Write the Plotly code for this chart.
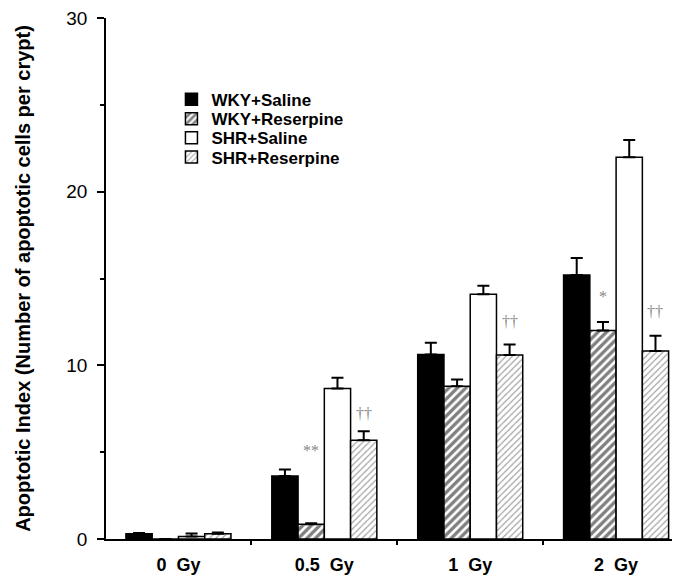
import plotly.graph_objects as go

# ---------------- data ----------------
dose_labels = ["0  Gy", "0.5  Gy", "1  Gy", "2  Gy"]
series_names = ["WKY+Saline", "WKY+Reserpine", "SHR+Saline", "SHR+Reserpine"]

wky_saline = [0.30, 3.63, 10.63, 15.20]
wky_saline_err = [0.05, 0.37, 0.67, 0.98]

wky_reserpine = [0.0, 0.85, 8.80, 12.00]
wky_reserpine_err = [0.0, 0.06, 0.39, 0.50]

shr_saline = [0.15, 8.67, 14.09, 21.98]
shr_saline_err = [0.17, 0.61, 0.49, 1.00]

shr_reserpine = [0.30, 5.69, 10.59, 10.82]
shr_reserpine_err = [0.08, 0.52, 0.61, 0.88]

# significance marks: (dose index, series index, text, y level)
sig_dose = [1, 1, 2, 3, 3]
sig_series = [1, 3, 3, 1, 3]
sig_text = ["**", "††", "††", "*", "††"]
sig_level = [5.1, 7.25, 12.5, 13.95, 13.1]

y_ticks = [0, 10, 20, 30]
y_title = "Apoptotic Index (Number of apoptotic cells per crypt)"

# ---------------- styling / layout ----------------
# the page body adds an 8px margin; size the figure so it fills the window
W, H = 672, 569
ML, MR, MT, MB = 97.5, 0, 10.3, 38.3
plot_h = H - MT - MB
plot_w = W - ML - MR

BARGAP = 0.28
n_series = 4
bar_w = (1 - BARGAP) / n_series

values = [wky_saline, wky_reserpine, shr_saline, shr_reserpine]
errors = [wky_saline_err, wky_reserpine_err, shr_saline_err, shr_reserpine_err]
styles = [
    dict(color="black"),
    dict(color="white", pattern=dict(shape="/", fgcolor="black", bgcolor="white",
                                      size=6, solidity=0.55)),
    dict(color="white"),
    dict(color="white", pattern=dict(shape="/", fgcolor="#333333", bgcolor="white",
                                      size=4.5, solidity=0.25)),
]

# legend rows (pixel centres inside the figure) -> one legend per entry
legend_left_px = 163
legend_rows_px = [92, 111.3, 130.3, 149.7]
legend_keys = ["legend", "legend2", "legend3", "legend4"]

xpos = list(range(len(dose_labels)))
fig = go.Figure()
for name, vals, errs, st, lk in zip(series_names, values, errors, styles, legend_keys):
    fig.add_trace(go.Bar(
        x=xpos, y=vals, name=name, legend=lk,
        marker=dict(line=dict(color="black", width=1.5), **st),
        error_y=dict(type="data", symmetric=False, array=errs,
                     arrayminus=[0] * len(errs), color="black",
                     thickness=2, width=6),
    ))

for d, s, t, lv in zip(sig_dose, sig_series, sig_text, sig_level):
    fig.add_annotation(
        x=d + (s - (n_series - 1) / 2) * bar_w, y=lv, text=t, showarrow=False,
        font=dict(family="Liberation Serif", size=16, color="#888888"),
        xref="x", yref="y",
    )

legend_style = dict(
    xanchor="left", yanchor="middle",
    font=dict(family="Arial", size=17, weight="bold", color="black"),
    bgcolor="rgba(0,0,0,0)", borderwidth=0,
)
legend_layout = {}
for lk, row in zip(legend_keys, legend_rows_px):
    legend_layout[lk] = dict(
        x=(legend_left_px - ML) / plot_w,
        y=(H - MB - row) / plot_h,
        **legend_style,
    )

fig.update_layout(
    width=W, height=H,
    margin=dict(l=ML, r=MR, t=MT, b=MB, pad=0),
    paper_bgcolor="white", plot_bgcolor="white",
    barmode="group", bargap=BARGAP, bargroupgap=0,
    font=dict(family="Arial", color="black"),
    showlegend=True,
    **legend_layout,
)

mid_ticks = [i + 0.5 for i in xpos[:-1]]
fig.update_xaxes(
    range=[-0.4966, 3.438],
    tickvals=xpos, ticktext=[l.replace(" ", "\u00a0") for l in dose_labels],
    ticks="", showgrid=False, zeroline=False,
    showline=True, linecolor="black", linewidth=1.6,
    tickfont=dict(family="Arial", size=18, weight="bold", color="black"),
    ticklabelstandoff=9, ticklabeloverflow="allow",
    minor=dict(tickvals=mid_ticks, ticks="outside", ticklen=4,
               tickwidth=1.5, tickcolor="black", showgrid=False),
)
fig.update_yaxes(
    range=[0, 30], tickvals=y_ticks,
    ticks="outside", ticklen=7, tickwidth=1.5, tickcolor="black",
    showgrid=False, zeroline=False,
    showline=True, linecolor="black", linewidth=1.6,
    tickfont=dict(family="Arial", size=19, color="black"),
    ticklabelstandoff=6, ticklabeloverflow="allow",
    minor=dict(dtick=5, tick0=0, ticks="outside", ticklen=4,
               tickwidth=1.5, tickcolor="black", showgrid=False),
    title=dict(text=y_title, standoff=30,
               font=dict(family="Arial", size=20, weight="bold", color="black")),
)

fig.write_html("out.html")
